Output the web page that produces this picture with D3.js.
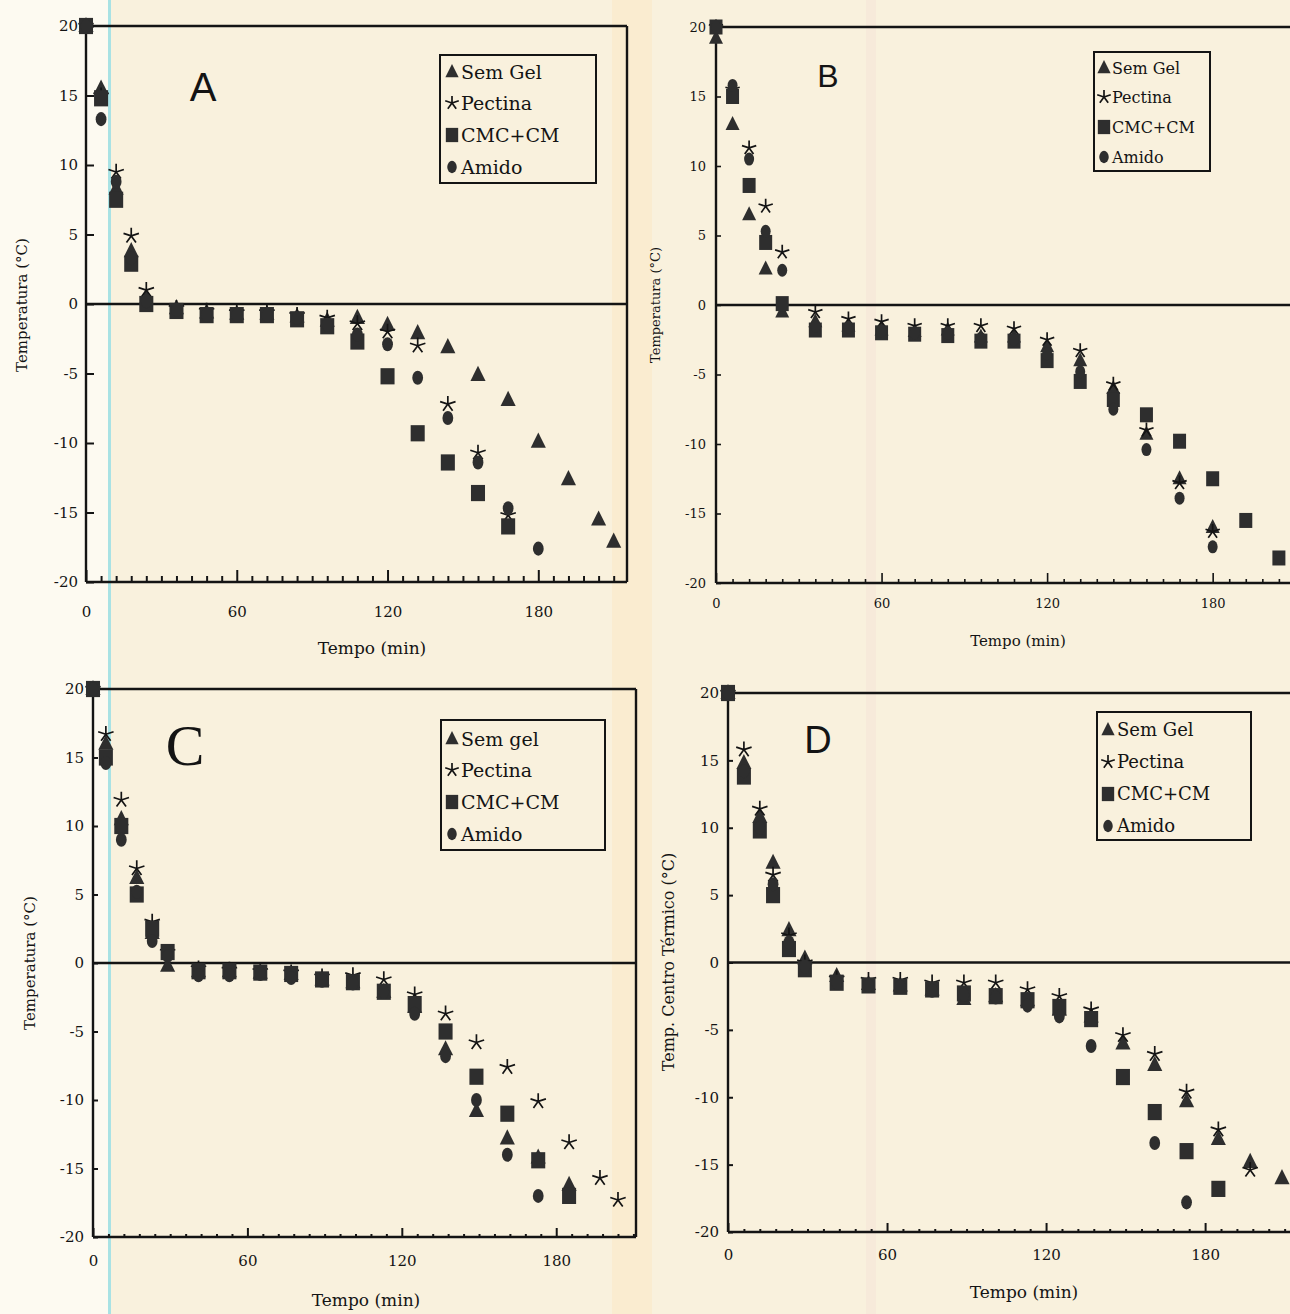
<!DOCTYPE html>
<html>
<head>
<meta charset="utf-8">
<script src="https://cdn.jsdelivr.net/npm/d3@7"></script>
<style>
  body { margin: 0; background: #f9f1dd; }
  svg { display: block; }
</style>
</head>
<body>
<svg id="fig" width="1290" height="1314"></svg>
<script>
// ---- data (tempo in min, temperatura in °C) ----
const legendA = ['Sem Gel', 'Pectina', 'CMC+CM', 'Amido'];
const legendC = ['Sem gel', 'Pectina', 'CMC+CM', 'Amido'];

const tempoA = [0, 6, 12, 18, 24, 36, 48, 60, 72, 84, 96, 108, 120, 132, 144, 156, 168, 180, 192, 204, 210];
const semGelA = [20, 15.5, 8.3, 3.8, 0.4, -0.3, -0.6, -0.7, -0.7, -0.9, -1.2, -1.0, -1.5, -2.1, -3.1, -5.1, -6.9, -9.9, -12.6, -15.5, -17.1];
const pectinaA = [20, 15.0, 9.5, 4.9, 1.0, -0.3, -0.5, -0.6, -0.6, -0.8, -1.0, -1.4, -2.0, -3.0, -7.2, -10.7, -15.2, null, null, null, null];
const cmcA = [20, 14.8, 7.5, 2.9, 0.0, -0.5, -0.8, -0.8, -0.8, -1.1, -1.6, -2.7, -5.2, -9.3, -11.4, -13.6, -16.0, null, null, null, null];
const amidoA = [20, 13.3, 8.8, 3.3, 0.2, -0.4, -0.8, -0.8, -0.8, -1.0, -1.5, -2.2, -2.9, -5.3, -8.2, -11.4, -14.7, -17.6, null, null, null];

const tempoB = [0, 6, 12, 18, 24, 36, 48, 60, 72, 84, 96, 108, 120, 132, 144, 156, 168, 180, 192, 204];
const semGelB = [19.2, 13.0, 6.5, 2.6, -0.5, -1.2, -1.5, -1.8, -1.9, -1.8, -2.3, -2.3, -3.0, -4.0, -6.0, -9.3, -12.5, -16.0, null, null];
const pectinaB = [20, 15.5, 11.3, 7.1, 3.8, -0.5, -1.0, -1.2, -1.5, -1.5, -1.5, -1.7, -2.5, -3.3, -5.7, -9.0, -12.8, -16.3, null, null];
const cmcB = [20, 15.0, 8.6, 4.5, 0.1, -1.8, -1.8, -2.0, -2.1, -2.2, -2.6, -2.6, -4.0, -5.5, -6.8, -7.9, -9.8, -12.5, -15.5, -18.2];
const amidoB = [20, 15.8, 10.5, 5.3, 2.5, -1.5, -1.6, -1.9, -2.0, -2.0, -2.4, -2.5, -3.5, -4.8, -7.5, -10.4, -13.9, -17.4, null, null];

const tempoC = [0, 5, 11, 17, 23, 29, 41, 53, 65, 77, 89, 101, 113, 125, 137, 149, 161, 173, 185, 197, 204];
const semGelC = [20, 16.0, 10.5, 6.2, 2.2, -0.2, -0.6, -0.6, -0.7, -0.8, -1.2, -1.4, -2.1, -3.2, -6.3, -10.8, -12.8, -14.2, -16.2, null, null];
const pectinaC = [20, 16.7, 11.9, 6.9, 3.0, 0.8, -0.4, -0.5, -0.6, -0.7, -1.0, -0.9, -1.2, -2.3, -3.7, -5.8, -7.6, -10.1, -13.1, -15.7, -17.3];
const cmcC = [20, 15.0, 10.0, 5.0, 2.5, 0.8, -0.6, -0.6, -0.7, -0.8, -1.2, -1.4, -2.1, -3.0, -5.0, -8.3, -11.0, -14.4, -17.0, null, null];
const amidoC = [20, 14.6, 9.0, 5.2, 1.6, 0.5, -0.9, -0.9, -0.8, -1.1, -1.3, -1.5, -2.1, -3.7, -6.8, -10.0, -14.0, -17.0, null, null, null];

const tempoD = [0, 6, 12, 17, 23, 29, 41, 53, 65, 77, 89, 101, 113, 125, 137, 149, 161, 173, 185, 197, 209];
const semGelD = [20, 14.8, 10.8, 7.4, 2.4, 0.3, -1.0, -1.6, -1.7, -2.0, -2.7, -2.5, -2.8, -3.5, -4.0, -6.0, -7.6, -10.3, -13.1, -14.8, -16.0];
const pectinaD = [20, 15.8, 11.4, 6.5, 2.0, 0.0, -1.2, -1.3, -1.3, -1.5, -1.5, -1.5, -2.0, -2.5, -3.5, -5.4, -6.8, -9.6, -12.4, -15.4, null];
const cmcD = [20, 13.8, 9.8, 5.0, 1.0, -0.5, -1.5, -1.7, -1.8, -2.0, -2.3, -2.5, -2.8, -3.3, -4.2, -8.5, -11.1, -14.0, -16.8, null, null];
const amidoD = [20, 14.2, 10.0, 5.8, 1.5, -0.3, -1.5, -1.7, -1.8, -2.1, -2.4, -2.6, -3.2, -4.0, -6.2, null, -13.4, -17.8, null, null, null];

const yTicks = [-20, -15, -10, -5, 0, 5, 10, 15, 20];
const xMajor = [0, 60, 120, 180];

// ---- layout (pixel placement of each panel) ----
const panels = [
  { tempo: tempoA, series: [semGelA, pectinaA, cmcA, amidoA], names: legendA,
    left: 86, right: 627, top: 26, bottom: 582, xmax: 215.3, box: true,
    tickW: 2, yTickLen: 8, minorLen: 6, majorLen: 12, tickFont: 15, xPad: 24, yPad: 8,
    xTitle: [372, 654, 17], yTitle: [22, 305, 15, 'Temperatura (°C)'],
    legend: { x: 440, y: 55, w: 156, h: 128, rows: [72, 103, 135, 167], mx: 452, tx: 461, size: 19 },
    letter: ['A', 203, 101, 40, 'Liberation Sans, Arial, sans-serif'], m: 1.08 },
  { tempo: tempoB, series: [semGelB, pectinaB, cmcB, amidoB], names: legendA,
    left: 716, right: 1312, top: 27, bottom: 583, xmax: 216, box: false,
    tickW: 1.6, yTickLen: 5, minorLen: 4, majorLen: 10, tickFont: 13, xPad: 16, yPad: 10,
    xTitle: [1018, 646, 15], yTitle: [655, 305, 13, 'Temperatura (°C)'],
    legend: { x: 1094, y: 52, w: 116, h: 119, rows: [68, 97, 127, 157], mx: 1104, tx: 1112, size: 16 },
    letter: ['B', 828, 87, 32, 'Liberation Sans, Arial, sans-serif'], m: 1.0 },
  { tempo: tempoC, series: [semGelC, pectinaC, cmcC, amidoC], names: legendC,
    left: 93, right: 636, top: 689, bottom: 1237, xmax: 211, box: true,
    tickW: 2, yTickLen: 5, minorLen: 3, majorLen: 9, tickFont: 15, xPad: 18, yPad: 9,
    xTitle: [366, 1306, 17], yTitle: [30, 963, 15, 'Temperatura (°C)'],
    legend: { x: 441, y: 720, w: 164, h: 130, rows: [739, 770, 802, 834], mx: 452, tx: 461, size: 19 },
    letter: ['C', 185, 765, 58, 'Liberation Serif, Times New Roman, serif'], m: 1.08 },
  { tempo: tempoD, series: [semGelD, pectinaD, cmcD, amidoD], names: legendA,
    left: 728, right: 1300, top: 693, bottom: 1232, xmax: 215.8, box: false,
    tickW: 2, yTickLen: 5, minorLen: 3, majorLen: 9, tickFont: 15, xPad: 17, yPad: 9,
    xTitle: [1024, 1298, 17], yTitle: [668, 962, 16, 'Temp. Centro Térmico (°C)'],
    legend: { x: 1097, y: 712, w: 154, h: 128, rows: [730, 762, 794, 826], mx: 1108, tx: 1117, size: 18 },
    letter: ['D', 818, 753, 38, 'Liberation Sans, Arial, sans-serif'], m: 1.08 }
];

const ink = '#141414';
const markFill = '#2e2e2e';
const serif = 'DejaVu Serif, serif';

const svg = d3.select('#fig');

// paper of the scan
svg.append('rect').attr('width', 1290).attr('height', 1314).attr('fill', '#f9f1dd');
svg.append('rect').attr('x', 0).attr('width', 108).attr('height', 1314).attr('fill', '#fdfaf1');
svg.append('rect').attr('x', 108).attr('width', 3).attr('height', 1314).attr('fill', '#a9e2e4');
svg.append('rect').attr('x', 612).attr('width', 40).attr('height', 1314).attr('fill', '#fae6c2').attr('opacity', 0.45);
svg.append('rect').attr('x', 866).attr('width', 10).attr('height', 1314).attr('fill', '#f4e2d6').attr('opacity', 0.45);

// marker shapes, one per series
function drawMarker(g, k, cx, cy, s) {
  if (k === 0) {
    const w = 14 * s, h = 14 * s;
    g.append('path')
      .attr('d', `M${cx},${cy - h * 0.6}L${cx + w / 2},${cy + h * 0.4}L${cx - w / 2},${cy + h * 0.4}Z`)
      .attr('fill', markFill);
  } else if (k === 1) {
    const r = 7.5 * s;
    const p = d3.path();
    for (let i = 0; i < 5; i++) {
      const a = -Math.PI / 2 + i * 2 * Math.PI / 5;
      p.moveTo(cx, cy);
      p.lineTo(cx + r * Math.cos(a), cy + r * Math.sin(a));
    }
    g.append('path').attr('d', p.toString()).attr('stroke', ink).attr('stroke-width', 1.7).attr('fill', 'none');
  } else if (k === 2) {
    const w = 13 * s, h = 15 * s;
    g.append('rect').attr('x', cx - w / 2).attr('y', cy - h / 2).attr('width', w).attr('height', h)
      .attr('fill', markFill);
  } else {
    g.append('ellipse').attr('cx', cx).attr('cy', cy).attr('rx', 5 * s).attr('ry', 6.5 * s)
      .attr('fill', markFill);
  }
}

panels.forEach(p => {
  const x = d3.scaleLinear().domain([0, p.xmax]).range([p.left, p.right]);
  const y = d3.scaleLinear().domain([-20, 20]).range([p.bottom, p.top]);
  const g = svg.append('g');

  // minor ticks every 6 min, major every 60 min, pointing into the plot
  const minor = d3.range(6, p.xmax, 6).filter(v => v % 60 !== 0);
  g.append('g').attr('transform', `translate(0,${p.bottom})`)
    .call(d3.axisBottom(x).tickValues(minor).tickSize(-p.minorLen).tickFormat(''))
    .call(a => a.select('.domain').remove())
    .call(a => a.selectAll('line').attr('stroke', ink).attr('stroke-width', p.tickW));
  g.append('g').attr('transform', `translate(0,${p.bottom})`)
    .call(d3.axisBottom(x).tickValues(xMajor).tickSize(-p.majorLen).tickPadding(p.xPad).tickFormat(d => String(d)))
    .call(a => a.select('.domain').remove())
    .call(a => a.selectAll('line').attr('stroke', ink).attr('stroke-width', p.tickW))
    .call(a => a.selectAll('text').attr('fill', ink).attr('font-family', serif).attr('font-size', p.tickFont));

  g.append('g').attr('transform', `translate(${p.left},0)`)
    .call(d3.axisLeft(y).tickValues(yTicks).tickSize(-p.yTickLen).tickPadding(p.yPad).tickFormat(d => String(d)))
    .call(a => a.select('.domain').remove())
    .call(a => a.selectAll('line').attr('stroke', ink).attr('stroke-width', p.tickW))
    .call(a => a.selectAll('text').attr('fill', ink).attr('font-family', serif).attr('font-size', p.tickFont));

  // frame: left, bottom, top, optional right, and the zero line
  const right = Math.min(p.right, 1290);
  const frame = [
    [p.left, p.top, p.left, p.bottom],
    [p.left, p.bottom, right, p.bottom],
    [p.left, p.top, right, p.top],
    [p.left, y(0), right, y(0)]
  ];
  if (p.box) frame.push([p.right, p.top, p.right, p.bottom]);
  g.selectAll('line.frame').data(frame).join('line').attr('class', 'frame')
    .attr('x1', d => d[0]).attr('y1', d => d[1]).attr('x2', d => d[2]).attr('y2', d => d[3])
    .attr('stroke', ink).attr('stroke-width', 2.4);

  // points
  p.series.forEach((vals, k) => {
    p.tempo.forEach((t, i) => {
      if (vals[i] == null) return;
      drawMarker(g, k, x(t), y(vals[i]), p.m);
    });
  });

  // legend
  const L = p.legend;
  g.append('rect').attr('x', L.x).attr('y', L.y).attr('width', L.w).attr('height', L.h)
    .attr('fill', 'none').attr('stroke', ink).attr('stroke-width', 2);
  p.names.forEach((name, k) => {
    drawMarker(g, k, L.mx, L.rows[k], 0.95);
    g.append('text').attr('x', L.tx).attr('y', L.rows[k]).attr('dy', '0.35em')
      .attr('font-family', serif).attr('font-size', L.size).attr('fill', ink).text(name);
  });

  // panel letter
  g.append('text').attr('x', p.letter[1]).attr('y', p.letter[2]).attr('text-anchor', 'middle')
    .attr('font-family', p.letter[4]).attr('font-size', p.letter[3]).attr('fill', ink).text(p.letter[0]);

  // axis titles
  g.append('text').attr('x', p.xTitle[0]).attr('y', p.xTitle[1]).attr('text-anchor', 'middle')
    .attr('font-family', serif).attr('font-size', p.xTitle[2]).attr('fill', ink).text('Tempo (min)');
  g.append('text').attr('transform', `translate(${p.yTitle[0]},${p.yTitle[1]}) rotate(-90)`)
    .attr('text-anchor', 'middle').attr('dy', '0.35em')
    .attr('font-family', serif).attr('font-size', p.yTitle[2]).attr('fill', ink).text(p.yTitle[3]);
});
</script>
</body>
</html>
